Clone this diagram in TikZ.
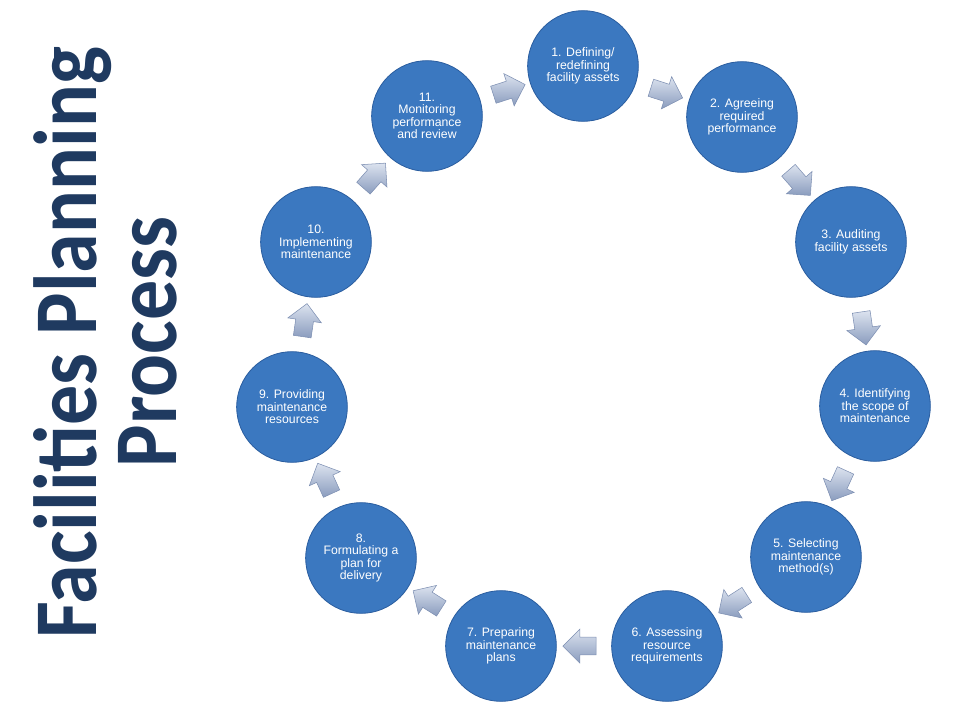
\documentclass[tikz,border=0pt]{standalone}
\usepackage{fontspec}
\setmainfont{Liberation Sans}
\newfontfamily\titlefont{Carlito}
\usetikzlibrary{shapes.arrows}

\definecolor{titleblue}{HTML}{1F3A60}
\definecolor{discmid}{HTML}{3B78C0}
\definecolor{discrim}{HTML}{2A5D9F}
\definecolor{flowlight}{HTML}{DCE3EF}
\definecolor{flowdark}{HTML}{8A9CBE}
\definecolor{flowline}{HTML}{7D8FB2}
\pgfdeclareradialshading{disc}{\pgfpoint{0bp}{0bp}}{color(0bp)=(discmid); color(38bp)=(discmid); color(50bp)=(discrim)}

\tikzset{
    stage/.style={circle, minimum size=83pt, inner sep=0pt, shade, shading=disc, draw=discrim, line width=.6pt,
        text=white, align=center, font=\fontsize{9.2}{9.4}\selectfont},
    flow/.style={single arrow, minimum height=25pt, inner xsep=0pt, inner ysep=6.5pt, single arrow head extend=6pt,
        shade, top color=flowlight, bottom color=flowdark, draw=flowline, line width=.4pt, sloped, allow upside down},
    heading/.style={rotate=90, yscale=1.12, transform shape, anchor=base, text=titleblue,
        font=\titlefont\bfseries\fontsize{60}{60}\selectfont}
}

\begin{document}
\begin{tikzpicture}[x=.75pt, y=-.75pt]
            \useasboundingbox (0,0) rectangle (960,720);

            \node[heading] (T1) at (96,343) {Facilities Planning};
            \node[heading] (T2) at (176,342) {Process};

            \node[stage] (c1) at (583,66) {1. Defining/\\redefining\\facility assets};
            \node[stage] (c2) at (742,117) {2. Agreeing\\required\\performance};
            \node[stage] (c3) at (851,242) {3. Auditing\\facility assets};
            \node[stage] (c4) at (875,406) {4. Identifying\\the scope of\\maintenance};
            \node[stage] (c5) at (806,557) {5. Selecting\\maintenance\\method(s)};
            \node[stage] (c6) at (667,646) {6. Assessing\\resource\\requirements};
            \node[stage] (c7) at (501,646) {7. Preparing\\maintenance\\plans};
            \node[stage] (c8) at (361,558) {8.\\Formulating a\\plan for\\delivery};
            \node[stage] (c9) at (292,407) {9. Providing\\maintenance\\resources};
            \node[stage] (c10) at (316,242) {10.\\Implementing\\maintenance};
            \node[stage] (c11) at (427,116) {11.\\Monitoring\\performance\\and review};

            \path (c1) -- node[flow] {} (c2); \path (c2) -- node[flow] {} (c3);
            \path (c3) -- node[flow] {} (c4); \path (c4) -- node[flow] {} (c5);
            \path (c5) -- node[flow] {} (c6); \path (c6) -- node[flow] {} (c7);
            \path (c7) -- node[flow] {} (c8); \path (c8) -- node[flow] {} (c9);
            \path (c9) -- node[flow] {} (c10); \path (c10) -- node[flow] {} (c11);
            \path (c11) -- node[flow] {} (c1);
\end{tikzpicture}
\end{document}
